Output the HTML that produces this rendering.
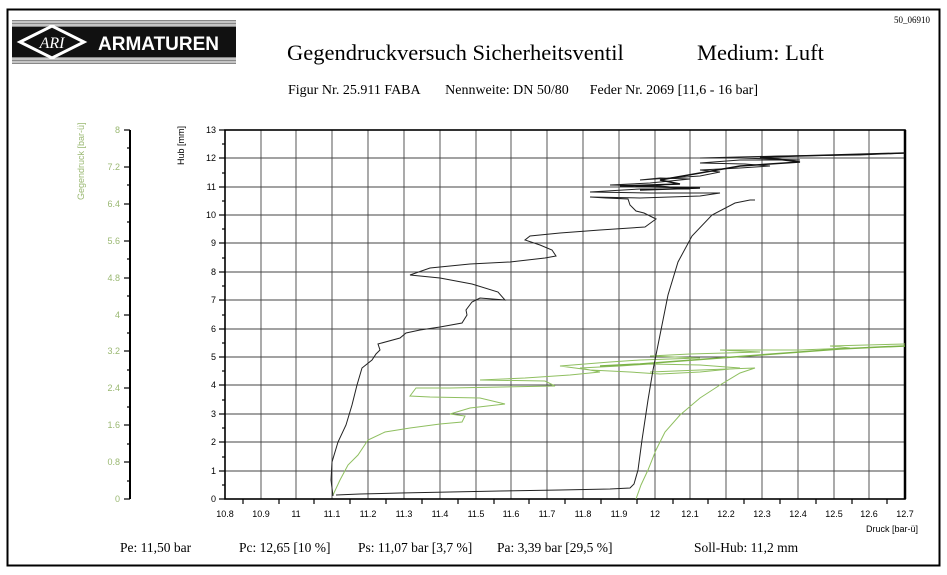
<!DOCTYPE html>
<html><head><meta charset="utf-8"><style>
body{margin:0;background:#fff;width:947px;height:575px;overflow:hidden}
svg{display:block}
.s{font-family:"Liberation Serif",serif}
.a{font-family:"Liberation Sans",sans-serif;font-size:9px}
</style></head><body>
<svg width="947" height="575" viewBox="0 0 947 575">
<rect x="7.5" y="9.5" width="932" height="556" fill="none" stroke="#000" stroke-width="2"/>
<g>
<rect x="12" y="20" width="224" height="44" fill="#888"/>
<rect x="12" y="27" width="224" height="30" fill="#111"/>
<line x1="12" y1="22" x2="236" y2="22" stroke="#fff" stroke-width="1"/>
<line x1="12" y1="25" x2="236" y2="25" stroke="#fff" stroke-width="1"/>
<line x1="12" y1="59" x2="236" y2="59" stroke="#fff" stroke-width="1"/>
<line x1="12" y1="62" x2="236" y2="62" stroke="#fff" stroke-width="1"/>
<polygon points="20,42 52,26 84,42 52,58" fill="none" stroke="#fff" stroke-width="3"/>
<text x="52" y="48" font-family="Liberation Serif" font-size="16" fill="#fff" text-anchor="middle" font-style="italic">ARI</text>
<text x="98" y="50" font-family="Liberation Sans" font-weight="bold" font-size="19" fill="#fff">ARMATUREN</text>
</g>
<text x="894" y="23" class="s" font-size="9">50_06910</text>
<text x="287" y="60" class="s" font-size="22.5">Gegendruckversuch Sicherheitsventil</text>
<text x="697" y="60" class="s" font-size="22.5">Medium: Luft</text>
<text x="288" y="94" class="s" font-size="14">Figur Nr. 25.911 FABA&#160;&#160;&#160;&#160;&#160;&#160;&#160;Nennweite: DN 50/80&#160;&#160;&#160;&#160;&#160;&#160;Feder Nr. 2069 [11,6 - 16 bar]</text>
<g stroke="#444" stroke-width="0.9">
<line x1="261" y1="130" x2="261" y2="499"/><line x1="296" y1="130" x2="296" y2="499"/><line x1="332" y1="130" x2="332" y2="499"/><line x1="368" y1="130" x2="368" y2="499"/><line x1="404" y1="130" x2="404" y2="499"/><line x1="440" y1="130" x2="440" y2="499"/><line x1="476" y1="130" x2="476" y2="499"/><line x1="511" y1="130" x2="511" y2="499"/><line x1="547" y1="130" x2="547" y2="499"/><line x1="583" y1="130" x2="583" y2="499"/><line x1="619" y1="130" x2="619" y2="499"/><line x1="655" y1="130" x2="655" y2="499"/><line x1="690" y1="130" x2="690" y2="499"/><line x1="726" y1="130" x2="726" y2="499"/><line x1="762" y1="130" x2="762" y2="499"/><line x1="798" y1="130" x2="798" y2="499"/><line x1="834" y1="130" x2="834" y2="499"/><line x1="869" y1="130" x2="869" y2="499"/>
<line x1="225" y1="158" x2="905" y2="158"/><line x1="225" y1="187" x2="905" y2="187"/><line x1="225" y1="215" x2="905" y2="215"/><line x1="225" y1="243" x2="905" y2="243"/><line x1="225" y1="272" x2="905" y2="272"/><line x1="225" y1="300" x2="905" y2="300"/><line x1="225" y1="329" x2="905" y2="329"/><line x1="225" y1="357" x2="905" y2="357"/><line x1="225" y1="385" x2="905" y2="385"/><line x1="225" y1="414" x2="905" y2="414"/><line x1="225" y1="442" x2="905" y2="442"/><line x1="225" y1="471" x2="905" y2="471"/>
</g>
<rect x="225" y="130" width="680" height="369" fill="none" stroke="#000" stroke-width="1.6"/>
<line x1="905" y1="130" x2="905" y2="499" stroke="#000" stroke-width="2.5"/>
<g stroke="#000" stroke-width="1.2">
<line x1="219" y1="130" x2="225" y2="130"/><line x1="219" y1="158" x2="225" y2="158"/><line x1="219" y1="187" x2="225" y2="187"/><line x1="219" y1="215" x2="225" y2="215"/><line x1="219" y1="243" x2="225" y2="243"/><line x1="219" y1="272" x2="225" y2="272"/><line x1="219" y1="300" x2="225" y2="300"/><line x1="219" y1="329" x2="225" y2="329"/><line x1="219" y1="357" x2="225" y2="357"/><line x1="219" y1="385" x2="225" y2="385"/><line x1="219" y1="414" x2="225" y2="414"/><line x1="219" y1="442" x2="225" y2="442"/><line x1="219" y1="471" x2="225" y2="471"/><line x1="219" y1="499" x2="225" y2="499"/>
<line x1="222" y1="144" x2="225" y2="144"/><line x1="222" y1="173" x2="225" y2="173"/><line x1="222" y1="201" x2="225" y2="201"/><line x1="222" y1="229" x2="225" y2="229"/><line x1="222" y1="258" x2="225" y2="258"/><line x1="222" y1="286" x2="225" y2="286"/><line x1="222" y1="315" x2="225" y2="315"/><line x1="222" y1="343" x2="225" y2="343"/><line x1="222" y1="371" x2="225" y2="371"/><line x1="222" y1="400" x2="225" y2="400"/><line x1="222" y1="428" x2="225" y2="428"/><line x1="222" y1="457" x2="225" y2="457"/><line x1="222" y1="485" x2="225" y2="485"/>
</g>
<g class="a" text-anchor="end">
<text x="216" y="133">13</text><text x="216" y="161">12</text><text x="216" y="190">11</text><text x="216" y="218">10</text><text x="216" y="246">9</text><text x="216" y="275">8</text><text x="216" y="303">7</text><text x="216" y="332">6</text><text x="216" y="360">5</text><text x="216" y="388">4</text><text x="216" y="417">3</text><text x="216" y="445">2</text><text x="216" y="474">1</text><text x="216" y="502">0</text>
</g>
<text class="a" transform="translate(184,165) rotate(-90)">Hub [mm]</text>
<g stroke="#000" stroke-width="1.2">
<line x1="243" y1="499" x2="243" y2="504"/><line x1="279" y1="499" x2="279" y2="504"/><line x1="314" y1="499" x2="314" y2="504"/><line x1="350" y1="499" x2="350" y2="504"/><line x1="386" y1="499" x2="386" y2="504"/><line x1="422" y1="499" x2="422" y2="504"/><line x1="458" y1="499" x2="458" y2="504"/><line x1="494" y1="499" x2="494" y2="504"/><line x1="529" y1="499" x2="529" y2="504"/><line x1="565" y1="499" x2="565" y2="504"/><line x1="601" y1="499" x2="601" y2="504"/><line x1="637" y1="499" x2="637" y2="504"/><line x1="673" y1="499" x2="673" y2="504"/><line x1="708" y1="499" x2="708" y2="504"/><line x1="744" y1="499" x2="744" y2="504"/><line x1="780" y1="499" x2="780" y2="504"/><line x1="816" y1="499" x2="816" y2="504"/><line x1="852" y1="499" x2="852" y2="504"/><line x1="887" y1="499" x2="887" y2="504"/>
</g>
<g class="a" text-anchor="middle">
<text x="225" y="517">10.8</text><text x="261" y="517">10.9</text><text x="296" y="517">11</text><text x="332" y="517">11.1</text><text x="368" y="517">11.2</text><text x="404" y="517">11.3</text><text x="440" y="517">11.4</text><text x="476" y="517">11.5</text><text x="511" y="517">11.6</text><text x="547" y="517">11.7</text><text x="583" y="517">11.8</text><text x="619" y="517">11.9</text><text x="655" y="517">12</text><text x="690" y="517">12.1</text><text x="726" y="517">12.2</text><text x="762" y="517">12.3</text><text x="798" y="517">12.4</text><text x="834" y="517">12.5</text><text x="869" y="517">12.6</text><text x="905" y="517">12.7</text>
</g>
<text class="a" x="866" y="532">Druck [bar-ü]</text>
<line x1="130" y1="130" x2="130" y2="499" stroke="#000" stroke-width="2"/>
<g stroke="#000" stroke-width="1.2">
<line x1="124" y1="130" x2="130" y2="130"/><line x1="124" y1="167" x2="130" y2="167"/><line x1="124" y1="204" x2="130" y2="204"/><line x1="124" y1="241" x2="130" y2="241"/><line x1="124" y1="278" x2="130" y2="278"/><line x1="124" y1="315" x2="130" y2="315"/><line x1="124" y1="351" x2="130" y2="351"/><line x1="124" y1="388" x2="130" y2="388"/><line x1="124" y1="425" x2="130" y2="425"/><line x1="124" y1="462" x2="130" y2="462"/><line x1="124" y1="499" x2="130" y2="499"/>
<line x1="127" y1="148" x2="130" y2="148"/><line x1="127" y1="185" x2="130" y2="185"/><line x1="127" y1="222" x2="130" y2="222"/><line x1="127" y1="259" x2="130" y2="259"/><line x1="127" y1="296" x2="130" y2="296"/><line x1="127" y1="333" x2="130" y2="333"/><line x1="127" y1="370" x2="130" y2="370"/><line x1="127" y1="407" x2="130" y2="407"/><line x1="127" y1="444" x2="130" y2="444"/><line x1="127" y1="481" x2="130" y2="481"/>
</g>
<g class="a" text-anchor="end" fill="#9ab872">
<text x="120" y="133">8</text><text x="120" y="170">7.2</text><text x="120" y="207">6.4</text><text x="120" y="244">5.6</text><text x="120" y="281">4.8</text><text x="120" y="318">4</text><text x="120" y="354">3.2</text><text x="120" y="391">2.4</text><text x="120" y="428">1.6</text><text x="120" y="465">0.8</text><text x="120" y="502">0</text>
</g>
<text class="a" fill="#9ab872" transform="translate(84,200) rotate(-90)">Gegendruck [bar-ü]</text>
<polyline fill="none" stroke="#8fbf60" stroke-width="1" points="333,495 340,480 348,465 358,455 368,440 385,432 410,428 440,424 462,422 465,416 450,414 470,408 505,404 480,398 430,397 410,396 416,388 450,388 555,386 545,381 480,380 525,378 570,375 600,372 580,368 620,366 650,364 700,365 740,368 700,372 660,374 630,372 590,370 560,366 610,362 640,360 700,358 650,356 690,354 760,352 720,350 800,350 850,348 830,346 905,344"/>
<polyline fill="none" stroke="#7cb348" stroke-width="1.6" points="600,366 640,364 680,361 720,358 760,355 800,352 840,349 880,347 905,346"/>
<polyline fill="none" stroke="#8fbf60" stroke-width="1" points="636,499 641,485 648,470 656,450 665,432 680,415 700,398 720,385 740,373 755,368 700,370 650,372"/>
<polyline fill="none" stroke="#222" stroke-width="1" points="333,496 331,480 332,462 338,442 346,425 352,405 357,385 362,368 372,360 376,354 380,350 378,344 400,338 406,333 420,330 440,327 462,323 467,315 466,310 472,302 480,298 505,300 498,292 472,284 440,278 410,275 430,268 470,264 510,262 545,258 556,256 552,250 540,245 525,240 530,236 560,233 600,230 645,227 656,219 650,216 644,213 636,211 630,205 628,199 606,198 590,197 640,198 700,196 720,193 650,193 590,192 640,189 690,189 660,186 610,185 650,183 690,179 660,178 640,180 700,176 720,172 700,170 740,168 770,166 745,164 700,163 740,160 800,160 740,158 700,158 780,156 860,155 905,153"/>
<polyline fill="none" stroke="#111" stroke-width="1.5" points="640,190 700,188 620,186 680,184 660,180 740,166 800,162 760,157 905,153"/>
<polyline fill="none" stroke="#222" stroke-width="1" points="336,495 360,494 400,493 450,492 500,491 560,490 610,489 630,488 634,484 638,470 642,440 648,400 653,370 660,335 668,295 678,262 692,236 712,215 735,203 750,200 755,200"/>
<g class="s" font-size="13.5">
<text x="120" y="552">Pe: 11,50 bar</text>
<text x="239" y="552">Pc: 12,65 [10 %]</text>
<text x="358" y="552">Ps: 11,07 bar [3,7 %]</text>
<text x="497" y="552">Pa: 3,39 bar [29,5 %]</text>
<text x="694" y="552">Soll-Hub: 11,2 mm</text>
</g>
</svg>
</body></html>
